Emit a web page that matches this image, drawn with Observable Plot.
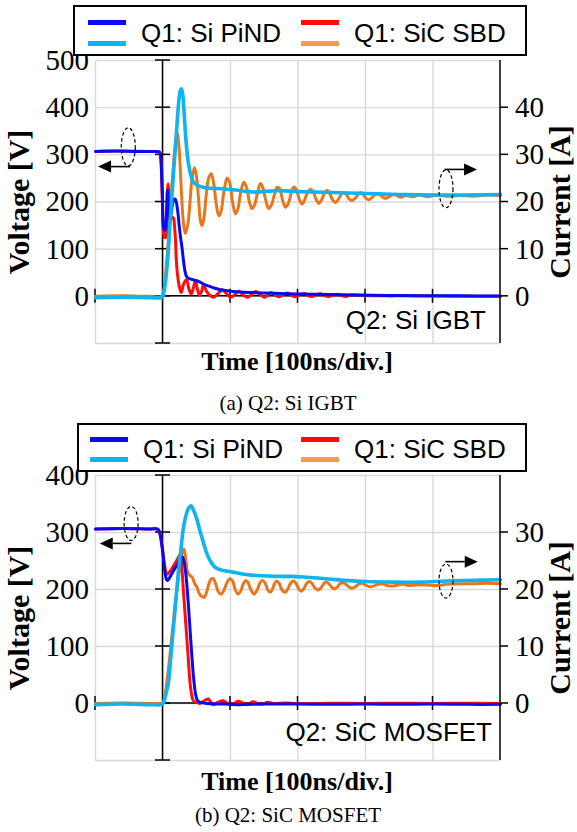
<!DOCTYPE html>
<html><head><meta charset="utf-8">
<script src="https://cdn.jsdelivr.net/npm/d3@7"></script>
<script src="https://cdn.jsdelivr.net/npm/@observablehq/plot@0.6"></script>
<style>
body{margin:0;background:#fff;}
#page{position:relative;width:577px;height:832px;overflow:hidden;background:#fff;}
.abs{position:absolute;white-space:nowrap;line-height:1;}
.serif{font-family:"Liberation Serif","Times New Roman",serif;color:#000;}
.sans{font-family:"Liberation Sans",Arial,sans-serif;color:#000;}
.chart{position:absolute;left:0;}
</style></head><body><div id="page"></div>
<script>
// ---------------- data ----------------
const legendLabels = ["Q1: Si PiND", "Q1: SiC SBD"];
const timeTicks = [-100, 0, 100, 200, 300, 400, 500];   // ns, 100 ns/div
const aVoltTicks = [0, 100, 200, 300, 400, 500];
const aCurrTicks = [0, 10, 20, 30, 40];
const bVoltTicks = [0, 100, 200, 300, 400];
const bCurrTicks = [0, 10, 20, 30];

// (a) Q2: Si IGBT   -- [time ns, value]
const aPindVoltage = [[-100,307],[-70,308],[-40,307],[-10,307],[-5,306],[-3,285],[-1,220],[1,145],[3,140],[5,170],[6.5,225],[8,190],[10,160],[12,175],[14,195],[16,205],[18,206],[20,198],[22,178],[24,150],[26,125],[28,105],[30,80],[32,58],[34,45],[36,40],[40,37],[45,35],[50,33],[55,30],[60,26],[67,22],[75,18],[85,14],[100,11],[115,9],[130,8],[150,7],[175,6],[200,5],[240,4],[280,3],[330,2],[380,1.5],[440,1],[500,0.5]];
const aSbdVoltage = [[-100,307],[-60,308],[-20,307],[-8,306],[-4,300],[-2,250],[0,160],[2,125],[4,125],[6,180],[7.5,238],[9.5,185],[11.5,163],[13.5,167],[15.5,166],[17,150],[18.5,118],[20,70],[22,40],[24,22],[27,8],[31,28],[35,35],[38.5,15],[42,5],[45,18],[48,33],[51,15],[54,3],[57,10],[60,24],[64,12],[68,4],[75,-2],[81,5],[88,14],[94,6],[100,-2],[106,3],[112,11],[118,4],[125,-2],[131,3],[137,10],[144,4],[150,-2],[155,2],[160,8],[166,3],[172,-1],[178,4],[185,7],[190,2],[197,-1],[203,4],[210,6],[215,1],[222,0],[228,4],[235,5],[240,1],[247,0],[253,3],[260,4],[265,1],[272,0],[278,3],[285,3],[300,2],[330,1],[360,1],[400,0.5],[450,0],[500,0]];
const aPindCurrent = [[-100,-0.3],[-60,-0.2],[-20,-0.3],[-3,-0.3],[0,0],[2,1.5],[4,3.5],[7,8],[10,14.5],[13,21],[16,27],[18.5,31.6],[21,37],[23.5,41.5],[25.5,43.5],[27.4,44],[29.5,42.5],[31.5,38.5],[33.5,34],[36,30],[38.5,27.5],[41,25.8],[44,24.5],[48,23.8],[53,23.4],[60,23.1],[70,22.9],[88,22.8],[110,22.5],[137,22.1],[167,22.4],[200,22.2],[250,22.0],[300,21.8],[350,21.6],[400,21.5],[450,21.5],[500,21.6]];
const aSbdCurrent = [[-100,0],[-60,0.1],[-20,0],[-2,0],[1,1],[4,5],[8,12],[12,21],[15,27],[18,32],[21,34.7],[24,31],[27,23],[30,16],[33,13.3],[37,15.5],[40,20],[43,25],[46.7,27.3],[50,25],[53,20],[55.5,16],[58,15],[61,17],[64,21.5],[67.5,25],[71.4,26],[75,24],[79,19.5],[82.7,17.1],[86,18],[90,22],[95,25.1],[99,24],[103,20],[107.4,17.5],[111,18.5],[115,22],[119.7,24.2],[124,23],[128,20],[132,18.6],[136,19.5],[140,22],[144.4,23.9],[148,23],[152,20.5],[156.7,18.6],[161,19.5],[165,21.5],[169,23.1],[173,22.8],[177,20.5],[181.5,18.9],[186,19.8],[190,22],[193.8,23.2],[198,22.5],[202,20.5],[206,19.6],[210,20.5],[214,22],[218.5,22.7],[223,22],[227,20.5],[230.8,19.7],[235,20.5],[239,21.8],[243,22.5],[247,21.8],[251,20.5],[255.6,19.9],[260,20.6],[264,21.6],[268,22],[272,21.5],[276,20.6],[280,20.3],[285,20.8],[289,21.6],[293,22],[297,21.5],[301,20.8],[305,20.5],[310,21],[314,21.6],[318,21.8],[323,21.3],[327,20.9],[331,20.8],[336,21.2],[341,21.6],[346,21.4],[352,21],[360,21.4],[370,21.1],[380,21.5],[392,21.1],[405,21.5],[420,21.2],[440,21.4],[460,21.2],[480,21.5],[500,21.4]];

// (b) Q2: SiC MOSFET
const bPindVoltage = [[-100,306],[-60,307],[-20,306],[-8,306],[-5,300],[-2,280],[1,250],[3,230],[5,218],[6.5,216],[9,219],[12.8,227],[16,234],[20.3,242],[24,250],[27,256],[28.6,257],[30.5,252],[33,235],[35,213],[37.5,175],[40,131],[42.5,88],[45,49],[47.5,22],[50,8],[53,3],[56,2],[65,0],[75,-1],[90,-1],[110,-2],[150,-1],[200,-1],[250,-1.5],[300,-1],[350,-1.5],[400,-1],[450,-1.5],[500,-1.5]];
const bSbdVoltage = [[-100,306],[-60,307],[-20,306],[-8,306],[-5,300],[-2,282],[1,255],[3,238],[5,228],[6.5,227],[9,230],[12.8,236],[16,242],[20,250],[23,257],[25,260],[27,250],[30,201],[32.5,160],[35,119],[37.5,78],[40,37],[42.5,15],[45,5],[50,2],[55,0],[60,4],[67,8],[74,-2],[81,2],[89,5],[96,0],[103,-2],[111,4],[118,1],[125,-2],[133,3],[140,0],[147,-1],[155,2],[165,0],[180,1],[200,0],[250,0.5],[300,0],[350,0.5],[400,0],[450,0.5],[500,0]];
const bPindCurrent = [[-100,-0.2],[-60,-0.1],[-20,-0.2],[-2,-0.2],[0,0],[3,1],[5,2],[8,3.7],[11.5,8],[15.3,13.1],[19,18],[22.7,23],[26.5,27],[30,30.6],[34,33],[37.5,34.2],[41.5,34.7],[45,34],[50,32.4],[55,30.2],[59.7,28.3],[65,26.3],[69.6,25.1],[77,23.9],[87,23.4],[96.7,23.2],[110,22.9],[126,22.6],[146,22.4],[166,22.3],[190,22.3],[208,22.2],[240,21.9],[267,21.6],[300,21.4],[340,21.3],[381,21.3],[420,21.5],[460,21.6],[500,21.7]];
const bSbdCurrent = [[-100,0],[-60,0.1],[-20,0],[-2,0],[0,0],[3,1.5],[8,6],[12,10.5],[15,14],[19,18.5],[22,21],[25,24],[28,26.3],[31,27.1],[33.5,25.5],[36,23.3],[38.5,22.6],[41,22.4],[44,22],[47,21],[50,20.5],[54,19.2],[57.5,18.8],[61,18.6],[64.5,19.5],[68,21],[71,21.8],[74.5,21.9],[78,21],[82,19.6],[86,19.2],[90,19.8],[94,21],[99,21.9],[103,21.5],[107,20],[111,19.2],[115,19.7],[119,21],[122.5,21.6],[126,21.2],[130,20],[135,19.2],[139,19.8],[143,21],[147,21.6],[151,21.2],[155,20],[158.5,19.5],[162,20],[165,21],[168.4,21.5],[172,21.1],[176,20],[181,19.5],[185,20.1],[189,21.1],[193,21.5],[197,21.1],[201,20.1],[205,19.7],[209,20.2],[213,21.1],[217,21.4],[221,21],[225,20.3],[230,19.9],[234,20.3],[238,21],[242,21.3],[246,21],[250,20.4],[254,20.1],[258,20.4],[262,21],[266,21.2],[270,21],[275,20.5],[280,20.2],[285,20.5],[290,21],[295,21.1],[300,20.8],[306,20.5],[312,20.6],[318,20.9],[325,21],[332,20.7],[340,20.6],[348,20.8],[356,20.9],[365,20.7],[375,20.8],[390,20.8],[405,20.7],[420,20.9],[440,21],[460,21],[480,21.1],[500,21]];

// dashed-ellipse markers with arrows (time ns, level in axis units)
const aMarkers = [
  {axis: "voltage", t: -50.7, level: 316, arrowFrom: -48, arrowTo: -95.5, arrowLevel: 274},
  {axis: "current", t: 420, level: 22.7, arrowFrom: 418, arrowTo: 466, arrowLevel: 26.8}
];
const bMarkers = [
  {axis: "voltage", t: -46.5, level: 315, arrowFrom: -46, arrowTo: -93, arrowLevel: 280},
  {axis: "current", t: 420, level: 21.4, arrowFrom: 419, arrowTo: 467, arrowLevel: 24.8}
];

// ---------------- styling ----------------
const COLORS = {pindV: "#0a0af0", pindI: "#0fb4ee", sbdV: "#ff0d0d", sbdI: "#e8761c", sbdILegend: "#f59a4e"};
const CUR_TO_V = 10; // secondary axis: 10 A corresponds to 100 V
const TICK_FONT = 29;

function axesOverlay(cfg) {
  return (index, scales) => {
    const {x, y} = scales;
    const g = d3.create("svg:g").attr("stroke", "#000").attr("stroke-width", 1.5).attr("fill", "none");
    const vGrid = [-100, ...cfg.voltTicks];
    g.append("line").attr("x1", x(0)).attr("x2", x(0)).attr("y1", y(-100)).attr("y2", y(cfg.vMax));
    for (const v of vGrid) g.append("line").attr("x1", x(0) - 7.5).attr("x2", x(0) + 7.5).attr("y1", y(v)).attr("y2", y(v));
    g.append("line").attr("x1", x(-100)).attr("x2", x(500)).attr("y1", y(0)).attr("y2", y(0));
    for (const t of timeTicks.filter(t => t !== 0 && t < 500)) g.append("line").attr("x1", x(t)).attr("x2", x(t)).attr("y1", y(0) - 7).attr("y2", y(0) + 7);
    return g.node();
  };
}
function rightAxis(cfg) {
  return (index, scales) => {
    const {x, y} = scales;
    const g = d3.create("svg:g").attr("stroke", "#000").attr("stroke-width", 1.5).attr("fill", "none");
    g.append("line").attr("x1", x(500)).attr("x2", x(500)).attr("y1", y(-100)).attr("y2", y(cfg.vMax));
    for (const i of cfg.currTicks) g.append("line").attr("x1", x(500)).attr("x2", x(500) + 8).attr("y1", y(i * CUR_TO_V)).attr("y2", y(i * CUR_TO_V));
    return g.node();
  };
}
function markersOverlay(cfg) {
  return (index, scales) => {
    const {x, y} = scales;
    const g = d3.create("svg:g");
    for (const m of cfg.markers) {
      const yv = v => m.axis === "current" ? y(v * CUR_TO_V) : y(v);
      g.append("ellipse").attr("cx", x(m.t)).attr("cy", yv(m.level)).attr("rx", 7).attr("ry", cfg.ellipseRy)
        .attr("fill", "none").attr("stroke", "#000").attr("stroke-width", 1.2).attr("stroke-dasharray", "3.5,2.5");
      const ya = yv(m.arrowLevel), xs = x(m.arrowFrom), xt = x(m.arrowTo);
      const dir = Math.sign(xt - xs), head = 13;
      g.append("line").attr("x1", xs).attr("x2", xt - dir * head).attr("y1", ya).attr("y2", ya).attr("stroke", "#000").attr("stroke-width", 1.6);
      g.append("path").attr("d", `M${xt},${ya}L${xt - dir * head},${ya - 6}L${xt - dir * head},${ya + 6}Z`).attr("fill", "#000");
    }
    return g.node();
  };
}
function tickLabels(cfg) {
  // numeric tick labels placed through the plot's scales
  return (index, scales) => {
    const {x, y} = scales;
    const g = d3.create("svg:g").attr("fill", "#000").attr("font-size", TICK_FONT)
      .style("font-family", "'Liberation Serif','Times New Roman',serif");
    for (const v of cfg.voltTicks) g.append("text").attr("x", x(-100) - 6).attr("y", y(v)).attr("dy", "0.34em").attr("text-anchor", "end").text(String(v));
    for (const i of cfg.currTicks) g.append("text").attr("x", x(500) + 15).attr("y", y(i * CUR_TO_V)).attr("dy", "0.34em").attr("text-anchor", "start").text(String(i));
    g.append("text").attr("x", x(500) + cfg.deviceDx).attr("y", y(-50)).attr("dy", "0.35em").attr("text-anchor", "end")
      .attr("font-size", 26).style("font-family", "'Liberation Sans',Arial,sans-serif").text(cfg.device);
    return g.node();
  };
}

function chart(cfg) {
  const vGrid = [-100, ...cfg.voltTicks];
  const tGrid = timeTicks.filter(t => t < 500);
  const series = [
    {data: cfg.sbdCurrent, color: COLORS.sbdI, w: 3, cur: true},
    {data: cfg.sbdVoltage, color: COLORS.sbdV, w: 3, cur: false},
    {data: cfg.pindVoltage, color: COLORS.pindV, w: 3, cur: false},
    {data: cfg.pindCurrent, color: COLORS.pindI, w: 3.6, cur: true}
  ];
  return Plot.plot({
    width: 577, height: 380,
    marginLeft: 95, marginRight: 77, marginTop: cfg.mt, marginBottom: cfg.mb,
    x: {domain: [-100, 500], axis: null},
    y: {domain: [-100, cfg.vMax], axis: null},
    style: {background: "transparent", overflow: "visible"},
    marks: [
      Plot.ruleY(vGrid, {stroke: "#d9d9d9", strokeWidth: 1.4}),
      Plot.ruleX(tGrid, {stroke: "#d9d9d9", strokeWidth: 1.4}),
      axesOverlay(cfg),
      ...series.map(s => Plot.line(s.data, {
        x: d => d[0],
        y: s.cur ? (d => d[1] * CUR_TO_V) : (d => d[1]),
        stroke: s.color, strokeWidth: s.w, curve: "catmull-rom", strokeLinejoin: "round", strokeLinecap: "round"
      })),
      rightAxis(cfg),
      tickLabels(cfg),
      markersOverlay(cfg)
    ]
  });
}

const page = document.getElementById("page");
function addText(txt, cls, left, top, size, opts = {}) {
  const d = document.createElement("div");
  d.className = "abs " + cls;
  d.textContent = txt;
  d.style.left = left + "px";
  d.style.top = top + "px";
  d.style.fontSize = size + "px";
  if (opts.bold) d.style.fontWeight = "bold";
  d.style.transform = opts.rotate ? "translate(-50%,-50%) rotate(-90deg)" : (opts.center ? "translate(-50%,-50%)" : "translate(0,-50%)");
  page.appendChild(d);
  return d;
}
function addBox(left, top, w, h, style) {
  const d = document.createElement("div");
  d.className = "abs";
  Object.assign(d.style, {left: left + "px", top: top + "px", width: w + "px", height: h + "px", boxSizing: "border-box"}, style);
  page.appendChild(d);
  return d;
}
function legend(L) {
  addBox(L.left, L.top, L.right - L.left, L.bottom - L.top, {border: "2.5px solid #000", background: "#fff"});
  const h = L.bottom - L.top;
  const y1 = L.top + h * 0.34, y2 = L.top + h * 0.755, yt = L.top + h * 0.54;
  const items = [
    {x: L.x1, c1: COLORS.pindV, c2: COLORS.pindI, label: legendLabels[0]},
    {x: L.x2, c1: COLORS.sbdV, c2: COLORS.sbdILegend, label: legendLabels[1]}
  ];
  for (const it of items) {
    addBox(it.x, y1 - 2.5, 38, 5, {background: it.c1});
    addBox(it.x, y2 - 2.5, 38, 5, {background: it.c2});
    addText(it.label, "sans", it.x + 53, yt, 26);
  }
}

const cfgA = {voltTicks: aVoltTicks, currTicks: aCurrTicks, vMax: 500, mt: 60, mb: 37, ellipseRy: 19, markers: aMarkers,
  pindVoltage: aPindVoltage, sbdVoltage: aSbdVoltage, pindCurrent: aPindCurrent, sbdCurrent: aSbdCurrent, device: "Q2: Si IGBT", deviceDx: -14};
const cfgB = {voltTicks: bVoltTicks, currTicks: bCurrTicks, vMax: 400, mt: 55, mb: 40, ellipseRy: 17, markers: bMarkers,
  pindVoltage: bPindVoltage, sbdVoltage: bSbdVoltage, pindCurrent: bPindCurrent, sbdCurrent: bSbdCurrent, device: "Q2: SiC MOSFET", deviceDx: -8};

const svgA = chart(cfgA); svgA.classList.add("chart"); svgA.style.top = "0px"; page.appendChild(svgA);
const svgB = chart(cfgB); svgB.classList.add("chart"); svgB.style.top = "420px"; page.appendChild(svgB);

legend({left: 73, top: 5, right: 527, bottom: 56, x1: 88, x2: 301});
legend({left: 77, top: 423, right: 527, bottom: 472, x1: 90, x2: 301});

addText("Time [100ns/div.]", "serif", 297, 362, 26, {bold: true, center: true});
addText("(a) Q2: Si IGBT", "serif", 288, 403, 21, {center: true});
addText("Voltage [V]", "serif", 19, 201.5, 30, {bold: true, rotate: true});
addText("Current [A]", "serif", 560, 201.5, 30, {bold: true, rotate: true});

addText("Time [100ns/div.]", "serif", 297, 782, 26, {bold: true, center: true});
addText("(b) Q2: SiC MOSFET", "serif", 288, 815, 21, {center: true});
addText("Voltage [V]", "serif", 19, 617.5, 30, {bold: true, rotate: true});
addText("Current [A]", "serif", 560, 617.5, 30, {bold: true, rotate: true});
</script>
</body></html>
